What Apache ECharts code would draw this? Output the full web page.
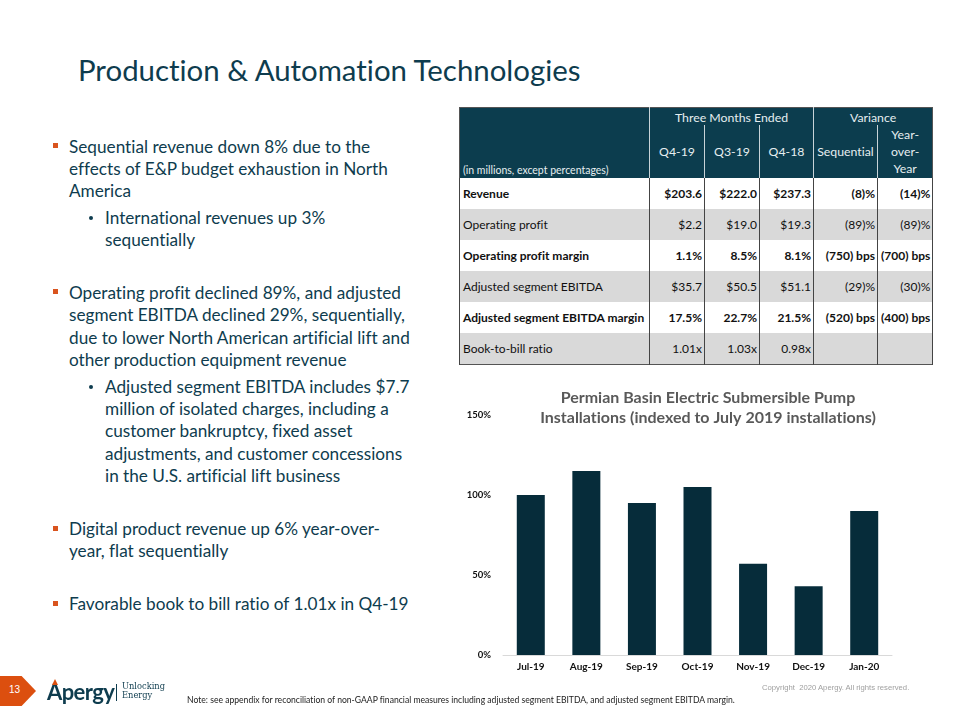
<!DOCTYPE html>
<html>
<head>
<meta charset="utf-8">
<script src="https://cdn.jsdelivr.net/npm/echarts@6/dist/echarts.min.js"></script>
<style>
  html, body { margin:0; padding:0; width:960px; height:720px; overflow:hidden; background:#fff; font-family: Lato, "Open Sans", sans-serif; font-variant-ligatures:none; }
  .abs { position:absolute; }
  #title { left:78px; top:52px; font-size:29.4px; color:#0e3c4e; white-space:nowrap; }
  .para { position:absolute; font-size:17.2px; line-height:22.4px; color:#0e3c4e; white-space:nowrap; }
  .sq { position:absolute; width:5px; height:5px; background:#d9541e; }
  .dot { position:absolute; width:4px; height:4px; border-radius:2px; background:#0e3c4e; }
  table { position:absolute; left:459px; top:107px; border-collapse:collapse; font-size:12px; color:#111; border:1px solid #555; }
  th { background:#0c3d4e; color:#e6eef0; font-weight:normal; padding:0 2px; font-size:12.3px; }
  td { height:31px; padding:0 3px; border-left:1px solid #444; border-right:1px solid #444; white-space:nowrap; }
  td.num { text-align:right; padding-right:2px; }
  tr.gray td { background:#d9d9d9; }
  tr.bold td { font-weight:bold; }
  #chart { position:absolute; left:460px; top:370px; width:496px; height:320px; }
</style>
</head>
<body>
<div id="title" class="abs">Production &amp; Automation Technologies</div>

<div class="sq" style="left:53px;top:143px"></div>
<div class="para" style="left:69px;top:135.5px">Sequential revenue down 8% due to the<br>effects of E&amp;P budget exhaustion in North<br>America</div>
<div class="dot" style="left:89px;top:216px"></div>
<div class="para" style="left:105px;top:206.8px">International revenues up 3%<br>sequentially</div>

<div class="sq" style="left:53px;top:289px"></div>
<div class="para" style="left:69px;top:281.7px">Operating profit declined 89%, and adjusted<br>segment EBITDA declined 29%, sequentially,<br>due to lower North American artificial lift and<br>other production equipment revenue</div>
<div class="dot" style="left:89px;top:385px"></div>
<div class="para" style="left:105px;top:375.5px">Adjusted segment EBITDA includes $7.7<br>million of isolated charges, including a<br>customer bankruptcy, fixed asset<br>adjustments, and customer concessions<br>in the U.S. artificial lift business</div>

<div class="sq" style="left:53px;top:526px"></div>
<div class="para" style="left:69px;top:517.8px">Digital product revenue up 6% year-over-<br>year, flat sequentially</div>

<div class="sq" style="left:53px;top:601px"></div>
<div class="para" style="left:69px;top:592.8px">Favorable book to bill ratio of 1.01x in Q4-19</div>

<table id="tbl"></table>

<div id="chart"></div>

<!-- footer -->
<div class="abs" style="left:0;top:676px;width:36px;height:30px;background:#dc4f0f;clip-path:polygon(0 0,60% 0,100% 50%,60% 100%,0 100%);"></div>
<div class="abs" style="left:9px;top:684px;font-size:10px;color:#fff;font-family:'Liberation Sans',sans-serif;">13</div>
<div class="abs" style="left:47px;top:678px;font-size:22px;font-weight:bold;color:#0e3c4e;letter-spacing:-0.6px;">Apergy</div>
<div class="abs" style="left:52px;top:679px;width:0;height:0;border-left:3px solid transparent;border-right:3px solid transparent;border-bottom:6px solid #dc4f0f;"></div>
<div class="abs" style="left:116px;top:684px;width:1px;height:17px;background:#0e3c4e;"></div>
<div class="abs" style="left:122px;top:682px;font-size:8.3px;line-height:9px;color:#0e3c4e;font-family:'DejaVu Serif',serif;">Unlocking<br>Energy</div>
<div class="abs" style="left:187px;top:695px;font-size:8.6px;color:#222;white-space:nowrap;">Note: see appendix for reconciliation of non-GAAP financial measures including adjusted segment EBITDA, and adjusted segment EBITDA margin.</div>
<div class="abs" style="left:762px;top:683px;font-size:7.7px;color:#a0a0a0;font-family:'Liberation Sans',sans-serif;white-space:nowrap;">Copyright&nbsp; 2020 Apergy. All rights reserved.</div>

<script>
// ---- chart data ----
const months = ["Jul-19", "Aug-19", "Sep-19", "Oct-19", "Nov-19", "Dec-19", "Jan-20"];
const espIndex = [100, 115, 95, 105, 57, 43, 90];
const yTicks = [0, 50, 100, 150];
const chartTitle = "Permian Basin Electric Submersible Pump\nInstallations (indexed to July 2019 installations)";

// ---- table data ----
const tableRowLabels = ["Revenue", "Operating profit", "Operating profit margin", "Adjusted segment EBITDA", "Adjusted segment EBITDA margin", "Book-to-bill ratio"];
const colQ419 = ["$203.6", "$2.2", "1.1%", "$35.7", "17.5%", "1.01x"];
const colQ319 = ["$222.0", "$19.0", "8.5%", "$50.5", "22.7%", "1.03x"];
const colQ418 = ["$237.3", "$19.3", "8.1%", "$51.1", "21.5%", "0.98x"];
const colSeq = ["(8)%", "(89)%", "(750) bps", "(29)%", "(520) bps", ""];
const colYoY = ["(14)%", "(89)%", "(700) bps", "(30)%", "(400) bps", ""];
const boldRows = [true, false, true, false, true, false];

// build table
(function(){
  const w = [190, 55, 55, 54, 64, 53];
  let h = '<colgroup>' + w.map(x => '<col style="width:' + x + 'px">').join('') + '</colgroup>';
  h += '<tr style="height:17px"><th rowspan="2" style="text-align:left;vertical-align:bottom;font-size:10.5px;padding:0 2px 2px 3px;border-right:1px solid #c8d3d8;">(in millions, except percentages)</th>' +
       '<th colspan="3" style="border-right:1px solid #c8d3d8;padding-top:2px">Three Months Ended</th><th colspan="2" style="padding-top:2px">Variance</th></tr>';
  h += '<tr style="height:53px">' +
       '<th style="border-right:1px solid #c8d3d8">Q4-19</th><th style="border-right:1px solid #c8d3d8">Q3-19</th><th style="border-right:1px solid #c8d3d8">Q4-18</th>' +
       '<th style="border-right:1px solid #c8d3d8">Sequential</th><th style="line-height:17px">Year-<br>over-<br>Year</th></tr>';
  tableRowLabels.forEach((lab, i) => {
    const cls = (i % 2 === 1 ? 'gray ' : '') + (boldRows[i] ? 'bold' : '');
    h += '<tr class="' + cls + '"><td>' + lab + '</td><td class="num">' + colQ419[i] + '</td><td class="num">' + colQ319[i] +
         '</td><td class="num">' + colQ418[i] + '</td><td class="num">' + colSeq[i] + '</td><td class="num">' + colYoY[i] + '</td></tr>';
  });
  document.getElementById('tbl').innerHTML = h;
})();

const chart = echarts.init(document.getElementById('chart'));
chart.setOption({
  animation: false,
  title: {
    text: chartTitle,
    left: 'center',
    top: 18,
    padding: 0,
    textStyle: { fontFamily: 'Lato', fontWeight: 'bold', fontSize: 16, lineHeight: 20, color: '#595959' }
  },
  grid: { left: 43, right: 64, top: 45, bottom: 35 },
  xAxis: {
    type: 'category',
    data: months,
    axisLine: { lineStyle: { color: '#d9d9d9', width: 1 } },
    axisTick: { show: false },
    axisLabel: { color: '#111', fontFamily: 'Lato', fontWeight: 'bold', fontSize: 10, margin: 7 }
  },
  yAxis: {
    type: 'value',
    min: yTicks[0],
    max: yTicks[yTicks.length - 1],
    interval: yTicks[1] - yTicks[0],
    splitLine: { show: false },
    axisLine: { show: false },
    axisTick: { show: false },
    axisLabel: { formatter: '{value}%', color: '#111', fontFamily: 'Lato', fontWeight: 'bold', fontSize: 9.5, margin: 12 }
  },
  series: [{
    type: 'bar',
    data: espIndex,
    barWidth: 28,
    itemStyle: { color: '#062c3a' }
  }]
});
</script>
</body>
</html>
